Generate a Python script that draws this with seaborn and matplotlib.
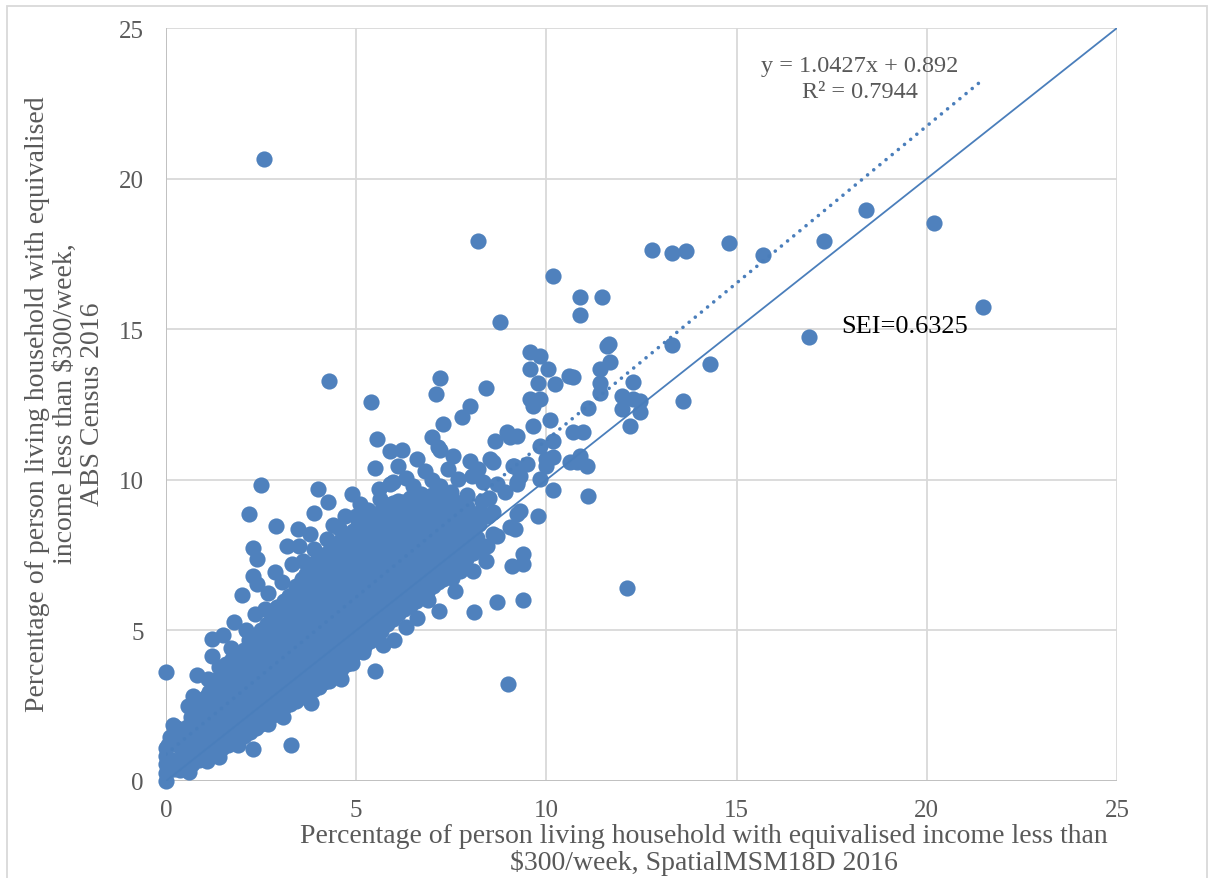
import matplotlib
matplotlib.use("Agg")
import matplotlib.pyplot as plt
import seaborn as sns
import pandas as pd
import numpy as np
from matplotlib.patches import Rectangle

# Dense body of the cloud (SpatialMSM18D %, ABS Census %)
core_pts = [
    (0.38, 0.36), (0.42, 0.74), (0.37, 1.13), (0.43, 1.52),
    (0.68, 0.55), (0.72, 0.97), (0.69, 1.33), (0.73, 1.76), (0.67, 2.12),
    (1.02, 0.86), (0.98, 1.22), (1.03, 1.61), (0.97, 1.98), (1.01, 2.42), (1.04, 2.78),
    (1.28, 1.02), (1.32, 1.41), (1.27, 1.79), (1.31, 2.21), (1.33, 2.58), (1.29, 3.02), (1.31, 3.36),
    (1.62, 1.18), (1.58, 1.62), (1.61, 1.99), (1.63, 2.41), (1.57, 2.79), (1.60, 3.22), (1.62, 3.58), (1.59, 3.88),
    (1.88, 1.41), (1.92, 1.79), (1.87, 2.22), (1.91, 2.58), (1.93, 3.01), (1.89, 3.38), (1.90, 3.81), (1.92, 4.18),
    (2.21, 1.62), (2.18, 2.01), (2.22, 2.38), (2.19, 2.82), (2.23, 3.19), (2.17, 3.62), (2.20, 3.98), (2.22, 4.41), (2.18, 4.68),
    (2.49, 1.88), (2.52, 2.31), (2.47, 2.69), (2.51, 3.12), (2.53, 3.48), (2.48, 3.91), (2.50, 4.29), (2.52, 4.72), (2.49, 5.02),
    (2.82, 2.19), (2.78, 2.61), (2.81, 2.98), (2.79, 3.41), (2.83, 3.79), (2.80, 4.22), (2.77, 4.58), (2.82, 5.01), (2.79, 5.43),
    (3.09, 2.46), (3.12, 2.83), (3.08, 3.27), (3.11, 3.63), (3.13, 4.06), (3.07, 4.44), (3.10, 4.87), (3.12, 5.23), (3.08, 5.66), (3.11, 5.98),
    (3.41, 2.66), (3.38, 3.07), (3.42, 3.43), (3.39, 3.86), (3.40, 4.24), (3.43, 4.67), (3.37, 5.03), (3.41, 5.46), (3.40, 5.84), (3.38, 6.27), (3.42, 6.48),
    (3.69, 2.91), (3.72, 3.28), (3.68, 3.72), (3.71, 4.08), (3.73, 4.52), (3.67, 4.88), (3.70, 5.31), (3.72, 5.68), (3.69, 6.12), (3.71, 6.49), (3.68, 6.88),
    (4.01, 3.12), (3.98, 3.49), (4.02, 3.92), (3.99, 4.28), (4.03, 4.71), (3.97, 5.09), (4.00, 5.52), (4.02, 5.88), (3.98, 6.31), (4.01, 6.68), (4.03, 7.11), (3.99, 7.36),
    (4.29, 3.42), (4.32, 3.79), (4.28, 4.22), (4.31, 4.58), (4.33, 5.02), (4.27, 5.38), (4.30, 5.81), (4.32, 6.18), (4.28, 6.62), (4.31, 6.98), (4.29, 7.41), (4.32, 7.66),
    (4.61, 3.71), (4.58, 4.08), (4.62, 4.52), (4.59, 4.88), (4.60, 5.31), (4.63, 5.68), (4.57, 6.12), (4.61, 6.48), (4.59, 6.91), (4.62, 7.28), (4.58, 7.72), (4.60, 8.01),
    (4.89, 4.12), (4.92, 4.48), (4.88, 4.91), (4.91, 5.28), (4.93, 5.72), (4.87, 6.08), (4.90, 6.52), (4.92, 6.88), (4.88, 7.31), (4.91, 7.68), (4.89, 8.12), (4.92, 8.31),
    (5.21, 4.46), (5.18, 4.83), (5.22, 5.27), (5.19, 5.63), (5.20, 6.06), (5.23, 6.43), (5.17, 6.87), (5.21, 7.23), (5.19, 7.66), (5.22, 8.03), (5.18, 8.46), (5.20, 8.62),
    (5.49, 4.81), (5.52, 5.18), (5.48, 5.62), (5.51, 5.98), (5.53, 6.42), (5.47, 6.78), (5.50, 7.22), (5.52, 7.58), (5.48, 8.02), (5.51, 8.38), (5.49, 8.86),
    (5.81, 5.21), (5.78, 5.58), (5.82, 6.02), (5.79, 6.38), (5.80, 6.82), (5.83, 7.18), (5.77, 7.62), (5.81, 7.98), (5.79, 8.42), (5.82, 8.78), (5.80, 9.16),
    (6.09, 5.56), (6.12, 5.93), (6.08, 6.37), (6.11, 6.73), (6.13, 7.17), (6.07, 7.53), (6.10, 7.97), (6.12, 8.33), (6.08, 8.77), (6.11, 9.08), (6.09, 9.31),
    (6.41, 5.81), (6.38, 6.18), (6.42, 6.62), (6.39, 6.98), (6.40, 7.42), (6.43, 7.78), (6.37, 8.22), (6.41, 8.58), (6.39, 9.02), (6.42, 9.41),
    (6.69, 6.11), (6.72, 6.48), (6.68, 6.92), (6.71, 7.28), (6.73, 7.72), (6.67, 8.08), (6.70, 8.52), (6.72, 8.88), (6.68, 9.32), (6.71, 9.52),
    (7.01, 6.46), (6.98, 6.83), (7.02, 7.27), (6.99, 7.63), (7.03, 8.07), (6.97, 8.43), (7.00, 8.87), (7.02, 9.23), (6.98, 9.51),
    (7.29, 6.72), (7.32, 7.08), (7.28, 7.52), (7.31, 7.88), (7.33, 8.32), (7.27, 8.68), (7.30, 9.12), (7.32, 9.41),
    (7.61, 7.01), (7.58, 7.38), (7.62, 7.82), (7.59, 8.18), (7.60, 8.62), (7.63, 8.98), (7.57, 9.31),
    (7.89, 7.36), (7.92, 7.73), (7.88, 8.17), (7.91, 8.53), (7.93, 8.96),
    (8.21, 7.71), (8.18, 8.08), (8.22, 8.52), (8.19, 8.82),
]

# Further areas packed between the ones above
core_pts_2 = [
    (0.55, 0.52), (0.57, 0.93), (0.53, 1.36), (0.56, 1.79),
    (0.86, 0.71), (0.83, 1.12), (0.87, 1.48), (0.84, 1.91), (0.86, 2.31),
    (1.16, 0.94), (1.13, 1.36), (1.17, 1.74), (1.14, 2.16), (1.16, 2.54), (1.13, 2.96),
    (1.46, 1.11), (1.43, 1.54), (1.47, 1.96), (1.44, 2.34), (1.46, 2.76), (1.43, 3.14), (1.47, 3.56),
    (1.76, 1.31), (1.73, 1.74), (1.77, 2.16), (1.74, 2.54), (1.76, 2.96), (1.73, 3.34), (1.77, 3.76), (1.74, 4.04),
    (2.06, 1.51), (2.03, 1.94), (2.07, 2.36), (2.04, 2.74), (2.06, 3.16), (2.03, 3.54), (2.07, 3.96), (2.04, 4.34),
    (2.36, 1.76), (2.33, 2.14), (2.37, 2.56), (2.34, 2.94), (2.36, 3.36), (2.33, 3.74), (2.37, 4.16), (2.34, 4.54), (2.36, 4.86),
    (2.66, 2.04), (2.63, 2.46), (2.67, 2.84), (2.64, 3.26), (2.66, 3.64), (2.63, 4.06), (2.67, 4.44), (2.64, 4.86), (2.66, 5.21),
    (2.96, 2.31), (2.93, 2.69), (2.97, 3.11), (2.94, 3.49), (2.96, 3.91), (2.93, 4.29), (2.97, 4.71), (2.94, 5.09), (2.96, 5.51), (2.93, 5.79),
    (3.26, 2.56), (3.23, 2.94), (3.27, 3.36), (3.24, 3.74), (3.26, 4.16), (3.23, 4.54), (3.27, 4.96), (3.24, 5.34), (3.26, 5.76), (3.23, 6.14),
    (3.56, 2.79), (3.53, 3.21), (3.57, 3.59), (3.54, 4.01), (3.56, 4.39), (3.53, 4.81), (3.57, 5.19), (3.54, 5.61), (3.56, 5.99), (3.53, 6.41), (3.57, 6.69),
    (3.86, 3.01), (3.83, 3.39), (3.87, 3.81), (3.84, 4.19), (3.86, 4.61), (3.83, 4.99), (3.87, 5.41), (3.84, 5.79), (3.86, 6.21), (3.83, 6.59), (3.87, 7.01), (3.84, 7.21),
    (4.16, 3.29), (4.13, 3.71), (4.17, 4.09), (4.14, 4.51), (4.16, 4.89), (4.13, 5.31), (4.17, 5.69), (4.14, 6.11), (4.16, 6.49), (4.13, 6.91), (4.17, 7.29), (4.14, 7.51),
    (4.46, 3.56), (4.43, 3.94), (4.47, 4.36), (4.44, 4.74), (4.46, 5.16), (4.43, 5.54), (4.47, 5.96), (4.44, 6.34), (4.46, 6.76), (4.43, 7.14), (4.47, 7.56), (4.44, 7.84),
    (4.76, 3.89), (4.73, 4.31), (4.77, 4.69), (4.74, 5.11), (4.76, 5.49), (4.73, 5.91), (4.77, 6.29), (4.74, 6.71), (4.76, 7.09), (4.73, 7.51), (4.77, 7.89), (4.74, 8.16),
    (5.06, 4.31), (5.03, 4.69), (5.07, 5.11), (5.04, 5.49), (5.06, 5.91), (5.03, 6.29), (5.07, 6.71), (5.04, 7.09), (5.06, 7.51), (5.03, 7.89), (5.07, 8.31), (5.04, 8.49),
    (5.36, 4.66), (5.33, 5.04), (5.37, 5.46), (5.34, 5.84), (5.36, 6.26), (5.33, 6.64), (5.37, 7.06), (5.34, 7.44), (5.36, 7.86), (5.33, 8.24), (5.37, 8.66),
    (5.66, 4.99), (5.63, 5.41), (5.67, 5.79), (5.64, 6.21), (5.66, 6.59), (5.63, 7.01), (5.67, 7.39), (5.64, 7.81), (5.66, 8.19), (5.63, 8.61), (5.67, 8.99),
    (5.96, 5.39), (5.93, 5.81), (5.97, 6.19), (5.94, 6.61), (5.96, 6.99), (5.93, 7.41), (5.97, 7.79), (5.94, 8.21), (5.96, 8.59), (5.93, 9.01), (5.97, 9.24),
    (6.26, 5.71), (6.23, 6.09), (6.27, 6.51), (6.24, 6.89), (6.26, 7.31), (6.23, 7.69), (6.27, 8.11), (6.24, 8.49), (6.26, 8.91), (6.23, 9.26),
    (6.56, 5.96), (6.53, 6.34), (6.57, 6.76), (6.54, 7.14), (6.56, 7.56), (6.53, 7.94), (6.57, 8.36), (6.54, 8.74), (6.56, 9.16), (6.53, 9.44),
    (6.86, 6.29), (6.83, 6.71), (6.87, 7.09), (6.84, 7.51), (6.86, 7.89), (6.83, 8.31), (6.87, 8.69), (6.84, 9.11), (6.86, 9.44),
    (7.16, 6.61), (7.13, 6.99), (7.17, 7.41), (7.14, 7.79), (7.16, 8.21), (7.13, 8.59), (7.17, 9.01), (7.14, 9.34),
    (7.46, 6.86), (7.43, 7.24), (7.47, 7.66), (7.44, 8.04), (7.46, 8.46), (7.43, 8.84), (7.47, 9.26),
    (7.76, 7.21), (7.73, 7.59), (7.77, 8.01), (7.74, 8.39), (7.76, 8.81), (7.73, 9.14),
    (8.06, 7.56), (8.03, 7.94), (8.07, 8.36), (8.04, 8.74),
]

# Scattered areas around the edge of the cloud
fringe_pts = [
    (0.00, 0.00), (0.00, 0.28), (0.00, 0.55), (0.00, 0.82), (0.00, 1.08), (0.05, 1.20),
    (0.15, 0.70), (0.20, 0.40), (0.60, 0.30), (1.08, 0.66), (0.45, 0.63),
    (0.18, 1.86), (0.10, 1.45), (0.30, 1.75), (0.58, 2.49), (0.71, 2.82), (0.82, 3.52),
    (0.00, 3.62), (0.90, 2.70), (1.21, 4.15), (1.21, 4.70), (1.50, 4.85), (1.10, 3.40),
    (1.40, 3.80), (1.79, 5.28), (1.70, 4.40), (2.00, 6.17), (2.10, 5.00), (2.34, 5.54),
    (2.29, 6.80), (2.39, 6.54), (2.29, 7.73), (2.39, 7.37), (2.68, 6.24), (2.60, 5.70),
    (2.87, 6.94), (3.05, 6.60), (2.18, 8.86), (2.50, 9.82), (2.89, 8.46), (3.18, 7.80),
    (3.50, 7.80), (3.47, 8.36), (3.79, 8.20), (3.30, 7.20), (3.60, 7.30), (3.90, 7.70),
    (3.90, 8.90), (4.00, 9.69), (4.26, 9.26), (4.23, 8.03), (4.40, 8.50), (4.70, 8.80),
    (4.55, 8.40), (4.89, 9.53), (5.10, 9.20), (5.00, 8.80), (5.30, 9.00), (5.63, 9.36),
    (5.97, 9.92), (5.60, 9.70), (5.49, 10.39), (5.89, 10.95), (5.55, 11.35),
    (6.20, 11.00), (6.10, 10.45), (6.30, 10.06), (6.60, 10.69), (5.89, 9.86), (6.50, 9.80),
    (6.80, 10.30), (7.00, 10.00), (7.42, 10.35), (7.55, 10.79), (7.20, 11.00), (7.15, 11.08),
    (6.99, 11.42), (7.28, 11.85), (7.78, 12.08), (7.99, 12.45), (7.99, 10.62), (8.04, 10.12),
    (7.68, 10.02), (7.20, 9.80), (7.50, 9.60), (7.90, 9.50), (8.34, 9.92), (8.20, 10.35),
    (8.52, 10.69), (8.65, 11.28), (8.96, 11.58), (9.04, 11.42), (9.23, 11.45), (8.60, 10.59),
    (8.70, 9.86), (9.12, 10.45), (9.30, 10.12), (9.23, 9.92), (9.83, 10.02), (10.00, 10.69),
    (10.00, 10.45), (9.49, 10.52), (8.50, 9.40), (8.90, 9.60), (8.26, 8.93), (8.60, 8.93),
    (9.23, 8.86), (9.04, 8.43), (8.70, 8.13), (8.18, 7.93), (8.44, 7.80), (8.60, 8.20),
    (9.17, 8.36), (9.30, 8.96), (9.78, 8.80), (8.47, 8.80), (7.90, 9.10), (8.30, 9.30),
    (1.40, 0.80), (2.29, 1.06), (3.29, 1.19), (3.08, 2.12), (2.68, 1.90), (1.90, 1.20),
    (3.55, 2.82), (3.80, 2.60), (4.28, 3.32), (4.60, 3.40), (4.89, 3.92), (5.49, 3.65),
    (5.18, 4.28), (5.99, 4.68), (5.70, 4.50), (6.30, 5.10), (6.60, 5.40), (7.18, 5.64),
    (8.10, 5.60), (8.70, 5.94), (7.52, 6.74), (7.73, 6.97), (8.07, 6.97), (7.47, 7.47),
    (8.40, 7.30), (9.10, 7.14), (9.38, 7.20), (9.38, 7.53), (9.38, 6.00), (6.90, 6.00),
    (7.60, 6.30),
]

# Isolated areas away from the cloud
outlier_pts = [
    (8.99, 3.22), (4.28, 13.27), (5.39, 12.58), (7.20, 13.37), (7.10, 12.85), (8.41, 13.04),
    (8.78, 15.23), (2.58, 20.64), (8.20, 17.92), (10.17, 16.76), (10.88, 16.06), (10.88, 15.47),
    (11.46, 16.06), (12.78, 17.62), (13.30, 17.52), (13.67, 17.59), (14.80, 17.86), (15.69, 17.46),
    (17.30, 17.92), (18.40, 18.95), (20.19, 18.52), (21.48, 15.73), (16.90, 14.74), (13.30, 14.47),
    (14.30, 13.84), (13.59, 12.61), (12.12, 6.40),
    (9.57, 14.24), (9.83, 14.10), (9.57, 13.67), (10.04, 13.67), (9.78, 13.20), (10.23, 13.18),
    (10.70, 13.40), (10.60, 13.45), (9.57, 12.68), (9.83, 12.68), (9.65, 12.45), (10.10, 12.00),
    (9.65, 11.78), (10.70, 11.58), (10.97, 11.58), (10.17, 11.28), (9.83, 11.12), (9.15, 10.45),
    (9.23, 9.86), (10.17, 10.75), (10.62, 10.59), (10.88, 10.79), (11.07, 10.45), (10.80, 10.60),
    (10.17, 9.66), (11.10, 9.46), (11.41, 13.67), (11.67, 13.90), (11.60, 14.44), (11.65, 14.50),
    (11.41, 13.20), (11.41, 12.88), (12.00, 12.78), (12.28, 13.24), (12.28, 12.68), (12.46, 12.60),
    (12.00, 12.35), (12.46, 12.25), (12.20, 11.78), (11.10, 12.40),
]

# Linear trend and agreement statistics
fit_slope = 1.0427
fit_intercept = 0.892
fit_r2 = 0.7944
sei_value = 0.6325
identity_line = [0, 25]
axis_ticks = [0, 5, 10, 15, 20, 25]

x_title = ("Percentage of person living household with equivalised income less than\n"
           "$300/week, SpatialMSM18D 2016")
y_title = ("Percentage of person living household with equivalised\n"
           "income less than $300/week,\nABS Census 2016")

POINT_BLUE = "#4F81BD"
LINE_BLUE = "#4A7EBB"
GRID = "#D9D9D9"
TEXT_GREY = "#595959"

sns.set_theme(style="white")
plt.rcParams["font.family"] = ["Liberation Serif", "DejaVu Serif"]

W, H = 1214, 879
fig = plt.figure(figsize=(W / 100, H / 100), dpi=100)
fig.patch.set_facecolor("white")
ax = fig.add_axes([166 / W, 1 - 782 / H, (1117 - 166) / W, (782 - 29) / H])

pts = pd.DataFrame(core_pts + core_pts_2 + fringe_pts + outlier_pts, columns=["x", "y"])
sns.scatterplot(data=pts, x="x", y="y", s=136, color=POINT_BLUE, linewidth=0,
                alpha=1.0, ax=ax, zorder=3, legend=False, clip_on=False)

# 1:1 reference line
sns.lineplot(x=identity_line, y=identity_line, color=LINE_BLUE, lw=1.3, ax=ax, zorder=4)

# dotted least-squares trend over the data range
fx = np.array([pts["x"].min(), pts["x"].max()])
ax.plot(fx, fit_slope * fx + fit_intercept, color=LINE_BLUE, lw=2.6,
        linestyle=(0, (0.01, 2.2)), dash_capstyle="round", zorder=4)

ax.set_xlim(0, 25)
ax.set_ylim(0, 25)
ax.set_xticks(axis_ticks)
ax.set_yticks(axis_ticks)
ax.set_xticklabels([str(t) for t in axis_ticks])
ax.set_yticklabels([str(t) for t in axis_ticks])
ax.set_xlabel("")
ax.set_ylabel("")
ax.grid(True, color=GRID, lw=1.3)
ax.set_axisbelow(True)
for side in ["top", "right", "left", "bottom"]:
    ax.spines[side].set_visible(False)
ax.axhline(0, color="#BFBFBF", lw=1.3, zorder=1)
ax.axvline(0, color="#BFBFBF", lw=1.3, zorder=1)
ax.tick_params(axis="both", length=0, labelsize=18, labelcolor=TEXT_GREY)
ax.tick_params(axis="x", pad=13)
ax.tick_params(axis="y", pad=16)

ax.text(18.24, 23.33, f"y = {fit_slope}x + {fit_intercept}\nR² = {fit_r2}",
        ha="center", va="center", fontsize=17.5, color=TEXT_GREY, linespacing=1.3)
ax.text(17.75, 15.1, f"SEI={sei_value}", ha="left", va="center",
        fontsize=19, color="black")

fig.text(704 / W, 1 - 850 / H, x_title, ha="center", va="center",
         multialignment="center", fontsize=20, color=TEXT_GREY, linespacing=1.08)
fig.text(65 / W, 1 - 404 / H, y_title, ha="center", va="center", rotation=90,
         multialignment="center", fontsize=20, color=TEXT_GREY, linespacing=1.15)

fig.patches.append(Rectangle((7 / W, -0.02), 1200 / W, 1.02 - 7 / H,
                             transform=fig.transFigure, fill=False,
                             edgecolor=GRID, lw=1.3))

fig.savefig("out.png", dpi=100)
